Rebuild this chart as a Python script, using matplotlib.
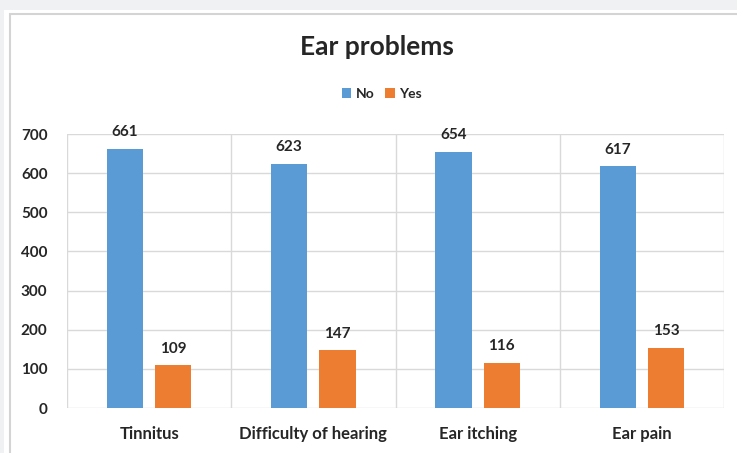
import matplotlib
matplotlib.use("Agg")
import matplotlib.pyplot as plt
from matplotlib.patches import Rectangle
import numpy as np

categories = ["Tinnitus", "Difficulty of hearing", "Ear itching", "Ear pain"]
no_values = [661, 623, 654, 617]
yes_values = [109, 147, 116, 153]
series_names = ["No", "Yes"]
y_ticks = [0, 100, 200, 300, 400, 500, 600, 700]

BLUE = "#5b9bd5"
ORANGE = "#ed7d31"
TEXT = "#262626"
GRID = "#d9d9d9"

plt.rcParams["font.family"] = ["Lato", "DejaVu Sans"]

fig = plt.figure(figsize=(7.37, 4.53), dpi=100)
fig.patch.set_facecolor("#f0f1f3")

# white chart canvas with a thin grey frame
fig.patches.append(Rectangle((4 / 737, 0), 1, 1 - 10 / 453, transform=fig.transFigure,
                             facecolor="white", edgecolor="none", zorder=-2))
fig.patches.append(Rectangle((10 / 737, -0.05), 1, 1.05 - 14 / 453, transform=fig.transFigure,
                             facecolor="white", edgecolor="#d4d4d4", linewidth=1.5, zorder=-1))

ax = fig.add_axes([67 / 737, 1 - 408 / 453, (724 - 67) / 737, (408 - 134) / 453])
ax.set_facecolor("white")

x = np.arange(len(categories))
width = 0.22
offset = 0.147
bars_no = ax.bar(x - offset, no_values, width, color=BLUE, label=series_names[0], zorder=3)
bars_yes = ax.bar(x + offset, yes_values, width, color=ORANGE, label=series_names[1], zorder=3)

for bars, vals in ((bars_no, no_values), (bars_yes, yes_values)):
    for b, v in zip(bars, vals):
        ax.text(b.get_x() + b.get_width() / 2, v + 25, str(v), ha="center", va="bottom",
                fontsize=11, fontweight="bold", color=TEXT)

ax.set_xlim(-0.5, len(categories) - 0.5)
ax.set_ylim(0, 700)
ax.set_yticks(y_ticks)
ax.set_yticklabels([str(t) for t in y_ticks], fontsize=11, fontweight="bold", color=TEXT)
ax.set_xticks(x)
ax.set_xticklabels(categories, fontsize=12, fontweight="bold", color=TEXT)
ax.tick_params(axis="both", length=0)
ax.tick_params(axis="y", pad=14)
ax.tick_params(axis="x", pad=13)

# horizontal gridlines and vertical category separators
for t in y_ticks:
    ax.axhline(t, color=GRID, linewidth=1, zorder=1)
for s in np.arange(-0.5, len(categories), 1.0):
    ax.axvline(s, color=GRID, linewidth=1, zorder=1)
for sp in ax.spines.values():
    sp.set_visible(False)

fig.text(0.512, 1 - 47 / 453, "Ear problems", ha="center", va="center",
         fontsize=19, fontweight="bold", color=TEXT)

fig.legend(handles=[bars_no, bars_yes], labels=series_names, loc="center",
           bbox_to_anchor=(0.518, 1 - 94 / 453), ncol=2, frameon=False,
           prop={"size": 10, "weight": "bold"}, handlelength=0.7, handleheight=0.7,
           handletextpad=0.3, columnspacing=0.8, labelcolor=TEXT)

fig.savefig("out.png", dpi=100, facecolor=fig.get_facecolor())
